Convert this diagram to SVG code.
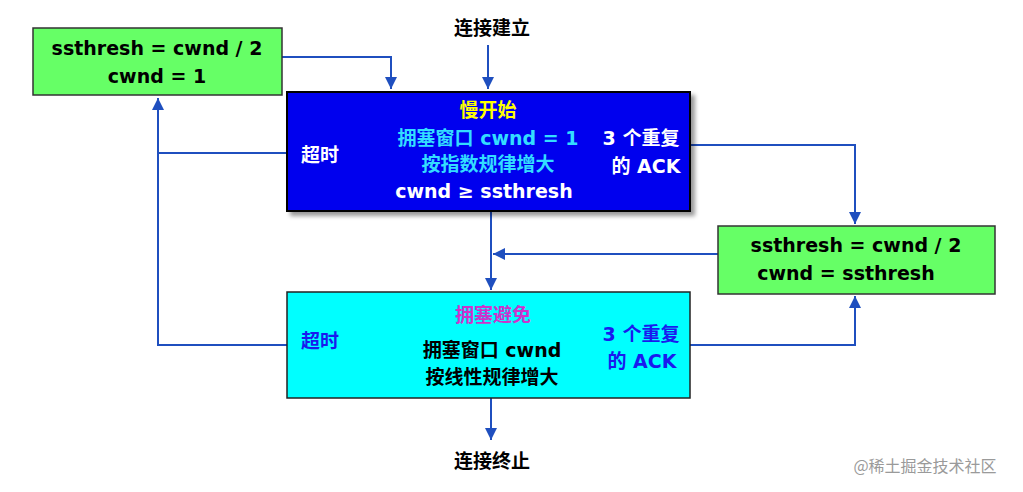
<svg xmlns="http://www.w3.org/2000/svg" width="1023" height="492" viewBox="0 0 1023 492">
<style>
text{font-family:"DejaVu Sans","Noto Sans CJK SC",sans-serif;font-weight:bold;font-size:19px;text-anchor:middle}
.c{fill:none;stroke:#1f4fbf;stroke-width:2}
</style>
<defs>
<marker id="a" viewBox="0 0 10 10" refX="10" refY="5" markerWidth="6" markerHeight="6" orient="auto"><path d="M0,0L10,5L0,10z" fill="#1f4fbf"/></marker>
<filter id="s" x="-5%" y="-5%" width="115%" height="120%"><feDropShadow dx="4" dy="4" stdDeviation="2" flood-color="#000" flood-opacity="0.4"/></filter>
</defs>
<rect width="1023" height="492" fill="#fff"/>
<g id="connectors">
<path class="c" d="M488,45V89" marker-end="url(#a)"/>
<path class="c" d="M282,57H391V89" marker-end="url(#a)"/>
<path class="c" d="M287,153H158"/>
<path class="c" d="M287,345H158V98" marker-end="url(#a)"/>
<path class="c" d="M690,145H855V224" marker-end="url(#a)"/>
<path class="c" d="M690,345H855V296" marker-end="url(#a)"/>
<path class="c" d="M718,254H493" marker-end="url(#a)"/>
<path class="c" d="M491,211V290" marker-end="url(#a)"/>
<path class="c" d="M491,398V440" marker-end="url(#a)"/>
</g>
<g id="n_start"><text x="492" y="35">连接建立</text></g>
<g id="n_end"><text x="492" y="468">连接终止</text></g>
<g id="n_timeout1">
<rect x="33" y="28" width="249" height="67" fill="#66ff66" stroke="#333" stroke-width="1.5"/>
<text x="157" y="55">ssthresh = cwnd / 2</text>
<text x="157" y="83">cwnd = 1</text>
</g>
<g id="n_slow">
<rect x="287" y="92" width="403" height="119" fill="#0000ee" stroke="#000" stroke-width="2" filter="url(#s)"/>
<text x="488" y="117" fill="#ffff00">慢开始</text>
<text x="488" y="145" fill="#33ddff">拥塞窗口 cwnd = 1</text>
<text x="488" y="171" fill="#33ddff">按指数规律增大</text>
<text x="484" y="198" fill="#fff">cwnd ≥ ssthresh</text>
<text x="320" y="162" fill="#fff">超时</text>
<text x="641" y="145" fill="#fff">3 个重复</text>
<text x="646" y="173" fill="#fff">的 ACK</text>
</g>
<g id="n_fast">
<rect x="718" y="226" width="277" height="68" fill="#66ff66" stroke="#333" stroke-width="1.5"/>
<text x="856" y="252">ssthresh = cwnd / 2</text>
<text x="846" y="280">cwnd = ssthresh</text>
</g>
<g id="n_ca">
<rect x="287" y="292" width="403" height="106" fill="#00ffff" stroke="#222" stroke-width="1.5"/>
<text x="493" y="322" fill="#cc33cc">拥塞避免</text>
<text x="492" y="357" fill="#000">拥塞窗口 cwnd</text>
<text x="492" y="384" fill="#000">按线性规律增大</text>
<text x="320" y="348" fill="#1a1aee">超时</text>
<text x="641" y="341" fill="#1a1aee">3 个重复</text>
<text x="642" y="368" fill="#1a1aee">的 ACK</text>
</g>
<text x="925" y="472" style="font-weight:normal;font-size:16px;font-family:'Noto Sans CJK SC',sans-serif" fill="#9a9a9a">@稀土掘金技术社区</text>
</svg>
